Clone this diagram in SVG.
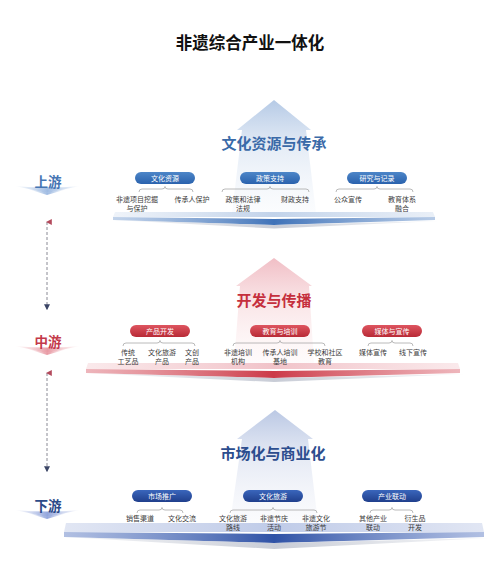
<svg xmlns="http://www.w3.org/2000/svg" width="500" height="581" viewBox="0 0 500 581">
<defs>
<style>
text{font-family:"Noto Sans CJK SC","Noto Sans",sans-serif}
.title{font-size:16.5px;font-weight:bold;fill:#111}
.hd{font-size:15px;font-weight:bold;text-anchor:middle}
.pt{font-size:7px;fill:#fff;text-anchor:middle}
.it{font-size:7px;fill:#3a3a3a;text-anchor:middle}
.lv{font-size:13.5px;font-weight:bold;text-anchor:middle}
.brace{fill:none;stroke:#a8a8a8;stroke-width:0.8}
.dash{stroke:#8a8a95;stroke-width:1;stroke-dasharray:3 2;fill:none}
</style>
<linearGradient id="arB" x1="0" y1="0" x2="0" y2="1">
<stop offset="0" stop-color="#adc4e3" stop-opacity="0.9"/>
<stop offset="0.45" stop-color="#dce6f3" stop-opacity="0.7"/>
<stop offset="1" stop-color="#f2f6fb" stop-opacity="0.3"/>
</linearGradient>
<linearGradient id="arR" x1="0" y1="0" x2="0" y2="1">
<stop offset="0" stop-color="#efb7bf" stop-opacity="0.9"/>
<stop offset="0.45" stop-color="#f8dcdf" stop-opacity="0.7"/>
<stop offset="1" stop-color="#fdf2f3" stop-opacity="0.3"/>
</linearGradient>
<linearGradient id="arN" x1="0" y1="0" x2="0" y2="1">
<stop offset="0" stop-color="#b3c2e1" stop-opacity="0.9"/>
<stop offset="0.45" stop-color="#dde3f1" stop-opacity="0.7"/>
<stop offset="1" stop-color="#f1f3f9" stop-opacity="0.3"/>
</linearGradient>
<linearGradient id="pB" x1="0" y1="0" x2="0" y2="1">
<stop offset="0" stop-color="#4d86c8"/><stop offset="1" stop-color="#2a62ad"/>
</linearGradient>
<linearGradient id="pR" x1="0" y1="0" x2="0" y2="1">
<stop offset="0" stop-color="#de5560"/><stop offset="1" stop-color="#b82a36"/>
</linearGradient>
<linearGradient id="pN" x1="0" y1="0" x2="0" y2="1">
<stop offset="0" stop-color="#3a66bc"/><stop offset="1" stop-color="#203f8c"/>
</linearGradient>
<linearGradient id="tB" x1="0" y1="0" x2="1" y2="0">
<stop offset="0" stop-color="#c9d8ec" stop-opacity="0.3"/><stop offset="0.5" stop-color="#c2d3ea"/><stop offset="1" stop-color="#c9d8ec" stop-opacity="0.4"/>
</linearGradient>
<linearGradient id="sB" x1="0" y1="0" x2="1" y2="0">
<stop offset="0" stop-color="#86a8d6" stop-opacity="0.5"/><stop offset="0.5" stop-color="#3f72b8"/><stop offset="1" stop-color="#86a8d6" stop-opacity="0.6"/>
</linearGradient>
<linearGradient id="tR" x1="0" y1="0" x2="1" y2="0">
<stop offset="0" stop-color="#f3c9ce" stop-opacity="0.4"/><stop offset="0.5" stop-color="#f1c3c9"/><stop offset="1" stop-color="#f3c9ce" stop-opacity="0.4"/>
</linearGradient>
<linearGradient id="sR" x1="0" y1="0" x2="1" y2="0">
<stop offset="0" stop-color="#e2848e" stop-opacity="0.6"/><stop offset="0.5" stop-color="#cc3a48"/><stop offset="1" stop-color="#e2848e" stop-opacity="0.6"/>
</linearGradient>
<linearGradient id="tN" x1="0" y1="0" x2="1" y2="0">
<stop offset="0" stop-color="#c3cde8" stop-opacity="0.5"/><stop offset="0.5" stop-color="#bfcbe8"/><stop offset="1" stop-color="#c3cde8" stop-opacity="0.5"/>
</linearGradient>
<linearGradient id="sN" x1="0" y1="0" x2="1" y2="0">
<stop offset="0" stop-color="#7d95cf" stop-opacity="0.6"/><stop offset="0.5" stop-color="#2f52a6"/><stop offset="1" stop-color="#7d95cf" stop-opacity="0.6"/>
</linearGradient>
<linearGradient id="sh" x1="0" y1="0" x2="1" y2="0">
<stop offset="0" stop-color="#d4d8e0" stop-opacity="0.2"/><stop offset="0.5" stop-color="#c8ccd6"/><stop offset="1" stop-color="#d4d8e0" stop-opacity="0.2"/>
</linearGradient>
<linearGradient id="swB" x1="0" y1="0" x2="1" y2="0">
<stop offset="0" stop-color="#b6cbe8" stop-opacity="0"/><stop offset="0.5" stop-color="#9fbbe2"/><stop offset="1" stop-color="#b6cbe8" stop-opacity="0"/>
</linearGradient>
<linearGradient id="swR" x1="0" y1="0" x2="1" y2="0">
<stop offset="0" stop-color="#f0bcc3" stop-opacity="0"/><stop offset="0.5" stop-color="#e89aa4"/><stop offset="1" stop-color="#f0bcc3" stop-opacity="0"/>
</linearGradient>
<linearGradient id="swN" x1="0" y1="0" x2="1" y2="0">
<stop offset="0" stop-color="#b6c2e6" stop-opacity="0"/><stop offset="0.5" stop-color="#93a6dc"/><stop offset="1" stop-color="#b6c2e6" stop-opacity="0"/>
</linearGradient>
<marker id="mUp" viewBox="0 0 10 10" refX="5" refY="2" markerWidth="6" markerHeight="6" orient="auto-start-reverse">
<path d="M0,10 L5,0 L10,10 Z" fill="#b34a5c"/>
</marker>
<marker id="mDn" viewBox="0 0 10 10" refX="5" refY="8" markerWidth="6" markerHeight="6">
<path d="M0,0 L5,10 L10,0 Z" fill="#3b4566"/>
</marker>
</defs>
<rect width="500" height="581" fill="#fff"/>
<text class="title" x="250" y="49" text-anchor="middle">非遗综合产业一体化</text>

<g id="stage1">
<path d="M274,100 L311,130 L306,130 L316,213 L232,213 L242,130 L237,130 Z" fill="url(#arB)"/>
<path d="M115,212 L433,212 L435,217 L113,217 Z" fill="url(#tB)"/>
<path d="M113,217 L274,219 L435,217 L435,220 L274,225 L113,220 Z" fill="url(#sB)"/>
<path d="M113,220 L274,225 L440,221 L274,228.5 Z" fill="url(#sh)"/>
<text class="hd" x="274" y="148.5" fill="#3a6aa8">文化资源与传承</text>
</g>
<g id="stage2">
<path d="M274,258 L312,286 L309,286 L314,363 L234,363 L240,286 L236,286 Z" fill="url(#arR)"/>
<path d="M88,363 L458,363 L460,369 L86,369 Z" fill="url(#tR)"/>
<path d="M86,369 L274,371 L460,369 L460,373 L274,378 L86,373 Z" fill="url(#sR)"/>
<path d="M86,373 L274,378 L466,374 L274,382 Z" fill="url(#sh)"/>
<text class="hd" x="274" y="306" fill="#c52f3d">开发与传播</text>
</g>
<g id="stage3">
<path d="M275,410 L313,439 L308,439 L318,523 L230,523 L242,439 L237,439 Z" fill="url(#arN)"/>
<path d="M66,523 L482,523 L484,532 L64,532 Z" fill="url(#tN)"/>
<path d="M64,532 L274,534 L484,532 L484,537 L274,543 L64,537 Z" fill="url(#sN)"/>
<path d="M64,537 L274,543 L490,538 L274,549 Z" fill="url(#sh)"/>
<text class="hd" x="273" y="458.5" fill="#2c4d8e">市场化与商业化</text>
</g>

<g id="level-up">
<path d="M15,186 Q47,189 80,186 L47,193 Z" fill="url(#swB)"/>
<path d="M28,189 L47,195 L67,189 L47,192.5 Z" fill="url(#swB)"/>
<text class="lv" x="48" y="187" fill="#4575b3">上游</text>
</g>
<g id="level-mid">
<path d="M15,346 Q47,349 80,346 L47,353 Z" fill="url(#swR)"/>
<path d="M28,349 L47,355 L67,349 L47,352.5 Z" fill="url(#swR)"/>
<text class="lv" x="48" y="347" fill="#c3394a">中游</text>
</g>
<g id="level-down">
<path d="M15,510 Q47,513 80,510 L47,517 Z" fill="url(#swN)"/>
<path d="M28,513 L47,519 L67,513 L47,516.5 Z" fill="url(#swN)"/>
<text class="lv" x="48" y="511" fill="#2c4a88">下游</text>
</g>

<g id="n-wenhuaziyuan">
<rect x="135" y="172" width="60" height="12" rx="6" fill="url(#pB)"/>
<text class="pt" x="165" y="180.5">文化资源</text>
<text class="it" x="137" y="201.5">非遗项目挖掘</text>
<text class="it" x="137" y="210.5">与保护</text>
<text class="it" x="192" y="201.5">传承人保护</text>
</g>
<g id="n-zhengce">
<rect x="240" y="172" width="60" height="12" rx="6" fill="url(#pB)"/>
<text class="pt" x="270" y="180.5">政策支持</text>
<text class="it" x="243" y="201.5">政策和法律</text>
<text class="it" x="243" y="210.5">法规</text>
<text class="it" x="295" y="201.5">财政支持</text>
</g>
<g id="n-yanjiu">
<rect x="347" y="172" width="60" height="12" rx="6" fill="url(#pB)"/>
<text class="pt" x="377" y="180.5">研究与记录</text>
<text class="it" x="348" y="201.5">公众宣传</text>
<text class="it" x="402" y="201.5">教育体系</text>
<text class="it" x="402" y="210.5">融合</text>
</g>

<g id="n-chanpin">
<rect x="130" y="325" width="60" height="12" rx="6" fill="url(#pR)"/>
<text class="pt" x="160" y="333.5">产品开发</text>
<text class="it" x="128" y="354.5">传统</text>
<text class="it" x="128" y="363.5">工艺品</text>
<text class="it" x="162" y="354.5">文化旅游</text>
<text class="it" x="162" y="363.5">产品</text>
<text class="it" x="192" y="354.5">文创</text>
<text class="it" x="192" y="363.5">产品</text>
</g>
<g id="n-jiaoyu">
<rect x="250" y="325" width="60" height="12" rx="6" fill="url(#pR)"/>
<text class="pt" x="280" y="333.5">教育与培训</text>
<text class="it" x="238" y="354.5">非遗培训</text>
<text class="it" x="238" y="363.5">机构</text>
<text class="it" x="280" y="354.5">传承人培训</text>
<text class="it" x="280" y="363.5">基地</text>
<text class="it" x="325" y="354.5">学校和社区</text>
<text class="it" x="325" y="363.5">教育</text>
</g>
<g id="n-meiti">
<rect x="362" y="325" width="60" height="12" rx="6" fill="url(#pR)"/>
<text class="pt" x="392" y="333.5">媒体与宣传</text>
<text class="it" x="373" y="354.5">媒体宣传</text>
<text class="it" x="413" y="354.5">线下宣传</text>
</g>

<g id="n-shichang">
<rect x="132" y="490" width="60" height="12" rx="6" fill="url(#pN)"/>
<text class="pt" x="162" y="498.5">市场推广</text>
<text class="it" x="140" y="520.5">销售渠道</text>
<text class="it" x="182" y="520.5">文化交流</text>
</g>
<g id="n-lvyou">
<rect x="243" y="490" width="60" height="12" rx="6" fill="url(#pN)"/>
<text class="pt" x="273" y="498.5">文化旅游</text>
<text class="it" x="233" y="520.5">文化旅游</text>
<text class="it" x="233" y="529.5">路线</text>
<text class="it" x="274" y="520.5">非遗节庆</text>
<text class="it" x="274" y="529.5">活动</text>
<text class="it" x="316" y="520.5">非遗文化</text>
<text class="it" x="316" y="529.5">旅游节</text>
</g>
<g id="n-chanye">
<rect x="362" y="490" width="60" height="12" rx="6" fill="url(#pN)"/>
<text class="pt" x="392" y="498.5">产业联动</text>
<text class="it" x="373" y="520.5">其他产业</text>
<text class="it" x="373" y="529.5">联动</text>
<text class="it" x="415" y="520.5">衍生品</text>
<text class="it" x="415" y="529.5">开发</text>
</g>

<g id="connectors">
<path class="brace" d="M139,192 Q139,189 142,189 L162,189 Q165,189 165,186.5 Q165,189 168,189 L190,189 Q193,189 193,192"/>
<path class="brace" d="M222,192 Q222,189 225,189 L267,189 Q270,189 270,186.5 Q270,189 273,189 L306,189 Q309,189 309,192"/>
<path class="brace" d="M336,192 Q336,189 339,189 L374,189 Q377,189 377,186.5 Q377,189 380,189 L410,189 Q413,189 413,192"/>
<path class="brace" d="M123,346 Q123,343 126,343 L157,343 Q160,343 160,340.5 Q160,343 163,343 L192,343 Q195,343 195,346"/>
<path class="brace" d="M233,346 Q233,343 236,343 L277,343 Q280,343 280,340.5 Q280,343 283,343 L322,343 Q325,343 325,346"/>
<path class="brace" d="M368,346 Q368,343 371,343 L389,343 Q392,343 392,340.5 Q392,343 395,343 L410,343 Q413,343 413,346"/>
<path class="brace" d="M137,513 Q137,510 140,510 L159,510 Q162,510 162,507.5 Q162,510 165,510 L180,510 Q183,510 183,513"/>
<path class="brace" d="M230,513 Q230,510 233,510 L270,510 Q273,510 273,507.5 Q273,510 276,510 L314,510 Q317,510 317,513"/>
<path class="brace" d="M370,513 Q370,510 373,510 L389,510 Q392,510 392,507.5 Q392,510 395,510 L410,510 Q413,510 413,513"/>
<line class="dash" x1="47" y1="222" x2="47" y2="309" marker-start="url(#mUp)" marker-end="url(#mDn)"/>
<line class="dash" x1="47" y1="373" x2="47" y2="471" marker-start="url(#mUp)" marker-end="url(#mDn)"/>
</g>
</svg>
